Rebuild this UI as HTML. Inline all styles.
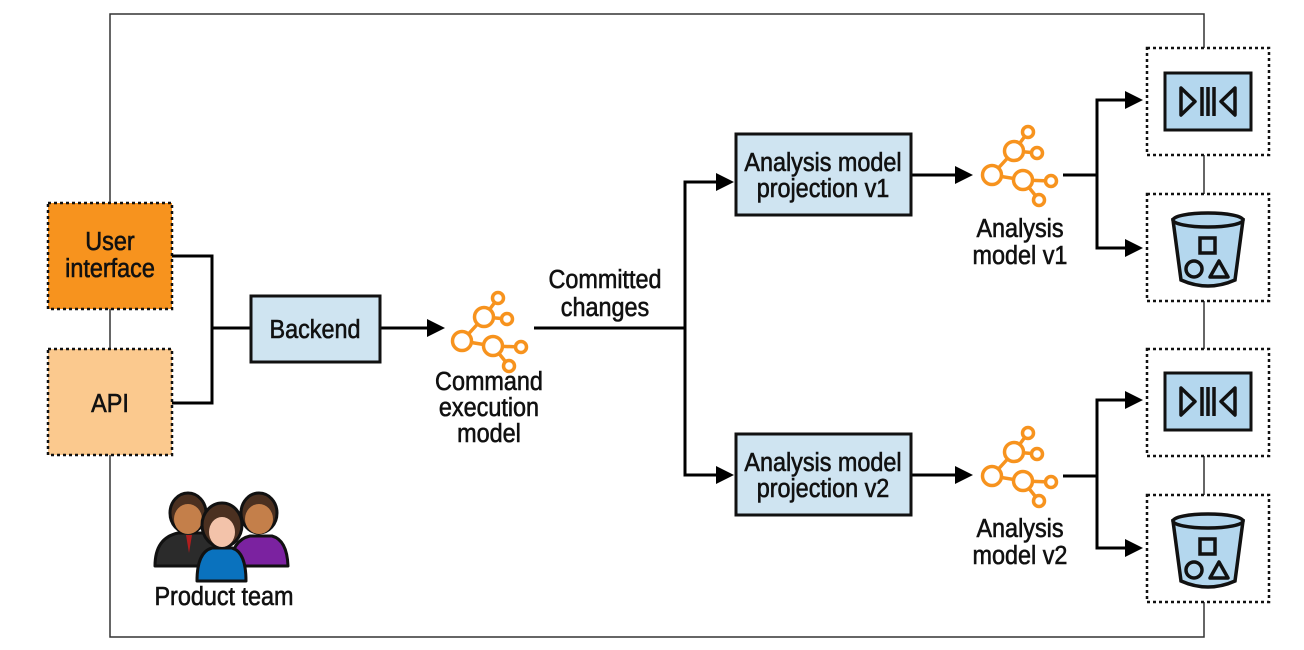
<!DOCTYPE html>
<html><head><meta charset="utf-8"><style>
html,body{margin:0;padding:0;background:#fff;}
svg{display:block;}
text{font-family:"Liberation Sans",sans-serif;font-size:26px;fill:#111;stroke:#111;stroke-width:0.6;text-anchor:middle;transform-box:fill-box;transform-origin:center;transform:scaleX(0.9);}
</style></head><body>
<svg width="1304" height="650" viewBox="0 0 1304 650" xmlns="http://www.w3.org/2000/svg">
<defs>
<g id="net" fill="none" stroke="#F7931E" stroke-width="3.5">
<line x1="0" y1="0" x2="22" y2="-24"/><line x1="0" y1="0" x2="31" y2="5"/>
<line x1="22" y1="-24" x2="36" y2="-43"/><line x1="22" y1="-24" x2="45" y2="-22"/>
<line x1="31" y1="5" x2="59" y2="6"/><line x1="31" y1="5" x2="47" y2="25"/>
<circle cx="0" cy="0" r="9.5" fill="#fff"/><circle cx="22" cy="-24" r="9.5" fill="#fff"/>
<circle cx="31" cy="5" r="9.5" fill="#fff"/><circle cx="36" cy="-43" r="5.5" fill="#fff"/>
<circle cx="45" cy="-22" r="5.5" fill="#fff"/><circle cx="59" cy="6" r="5.5" fill="#fff"/>
<circle cx="47" cy="25" r="5.5" fill="#fff"/>
</g>
<g id="stream">
<rect x="0" y="0" width="86" height="57" fill="#B4D7EE" stroke="#111" stroke-width="3"/>
<path d="M16 15 L30 28.5 L16 42 Z M70 15 L56 28.5 L70 42 Z" fill="none" stroke="#111" stroke-width="3.5" stroke-linejoin="round"/>
<line x1="37" y1="14" x2="37" y2="43" stroke="#111" stroke-width="3.5"/>
<line x1="43" y1="14" x2="43" y2="43" stroke="#111" stroke-width="3.5"/>
<line x1="49" y1="14" x2="49" y2="43" stroke="#111" stroke-width="3.5"/>
</g>
<g id="bucket" stroke="#111" stroke-width="3.5" fill="#B4D7EE">
<path d="M0 8 L8 68 Q35 80 62 68 L70 8 Z"/>
<ellipse cx="35" cy="8" rx="35" ry="7"/>
<rect x="27" y="26" width="15" height="15" fill="none"/>
<circle cx="21" cy="57" r="8" fill="none"/>
<path d="M46 49 L55 65 L37 65 Z" fill="none" stroke-linejoin="round"/>
</g>
<g id="tri"><path d="M-2 -9 L16 0 L-2 9 Z" fill="#000"/></g>
</defs>

<rect x="110" y="14" width="1094" height="623" fill="none" stroke="#333" stroke-width="1.5"/>

<rect x="48" y="203" width="124" height="106" fill="#F7931E" stroke="#111" stroke-width="2.5" stroke-dasharray="3,3"/>
<text x="110" y="250">User</text><text x="110" y="277">interface</text>
<rect x="48" y="349" width="124" height="106" fill="#FBC98E" stroke="#111" stroke-width="2.5" stroke-dasharray="3,3"/>
<text x="110" y="412">API</text>

<g fill="none" stroke="#000" stroke-width="3">
<path d="M172 256 H212 V403 H172"/>
<line x1="212" y1="328" x2="251" y2="328"/>
<line x1="380" y1="328" x2="432" y2="328"/>
<line x1="534" y1="328" x2="685" y2="328"/>
<path d="M722 182 H685 V475 H722"/>
<line x1="911" y1="175" x2="960" y2="175"/>
<line x1="911" y1="475" x2="960" y2="475"/>
<path d="M1063 175 H1097 M1130 100 H1097 V248 H1130"/>
<path d="M1063 476 H1097 M1130 400 H1097 V548 H1130"/>
</g>
<use href="#tri" x="429" y="328"/>
<use href="#tri" x="718" y="182"/>
<use href="#tri" x="718" y="475"/>
<use href="#tri" x="957" y="175"/>
<use href="#tri" x="957" y="475"/>
<use href="#tri" x="1127" y="100"/>
<use href="#tri" x="1127" y="248"/>
<use href="#tri" x="1127" y="400"/>
<use href="#tri" x="1127" y="548"/>

<rect x="251" y="296" width="129" height="66" fill="#CFE4F1" stroke="#111" stroke-width="3"/>
<text x="315" y="338">Backend</text>

<use href="#net" x="462" y="341"/>
<text x="489" y="390">Command</text><text x="489" y="416">execution</text><text x="489" y="442">model</text>
<text x="605" y="288">Committed</text><text x="605" y="316">changes</text>

<rect x="736" y="134" width="175" height="81" fill="#CFE4F1" stroke="#111" stroke-width="3"/>
<text x="823" y="171">Analysis model</text><text x="823" y="197">projection v1</text>
<rect x="736" y="434" width="175" height="81" fill="#CFE4F1" stroke="#111" stroke-width="3"/>
<text x="823" y="471">Analysis model</text><text x="823" y="497">projection v2</text>

<use href="#net" x="992" y="175"/>
<text x="1020" y="237">Analysis</text><text x="1020" y="264">model v1</text>
<use href="#net" x="992" y="476"/>
<text x="1020" y="537">Analysis</text><text x="1020" y="564">model v2</text>

<g fill="#fff" stroke="#111" stroke-width="2.5" stroke-dasharray="3,3">
<rect x="1147" y="48" width="122" height="107"/>
<rect x="1147" y="194" width="122" height="107"/>
<rect x="1147" y="349" width="122" height="107"/>
<rect x="1147" y="495" width="122" height="107"/>
</g>
<use href="#stream" x="1165" y="73"/>
<use href="#bucket" x="1173" y="212"/>
<use href="#stream" x="1165" y="373"/>
<use href="#bucket" x="1173" y="513"/>

<g stroke="#111" stroke-width="3" stroke-linejoin="round">
<path d="M155 566 Q155 538 178 533 L205 533 Q224 538 224 566 Z" fill="#2b2b2b"/>
<path d="M186 535 L189 553 L192 535 Z" fill="#B01E1E" stroke="none"/>
<ellipse cx="188" cy="513" rx="18" ry="20" fill="#4B3020"/>
<ellipse cx="188" cy="519" rx="14" ry="15" fill="#C47F4A" stroke="none"/>
<path d="M230 566 Q232 540 250 536 L272 536 Q287 540 288 566 Z" fill="#7B22A0"/>
<ellipse cx="259" cy="513" rx="18" ry="20" fill="#4B3020"/>
<ellipse cx="259" cy="519" rx="14" ry="15" fill="#C47F4A" stroke="none"/>
<path d="M197 581 Q197 552 212 548 L232 548 Q246 552 246 581 Z" fill="#0A72BE"/>
<ellipse cx="222" cy="525" rx="20" ry="22" fill="#4B3020"/>
<ellipse cx="222" cy="532" rx="13" ry="15" fill="#F3C3AA" stroke="none"/>
</g>
<text x="224" y="605">Product team</text>
</svg>
</body></html>
